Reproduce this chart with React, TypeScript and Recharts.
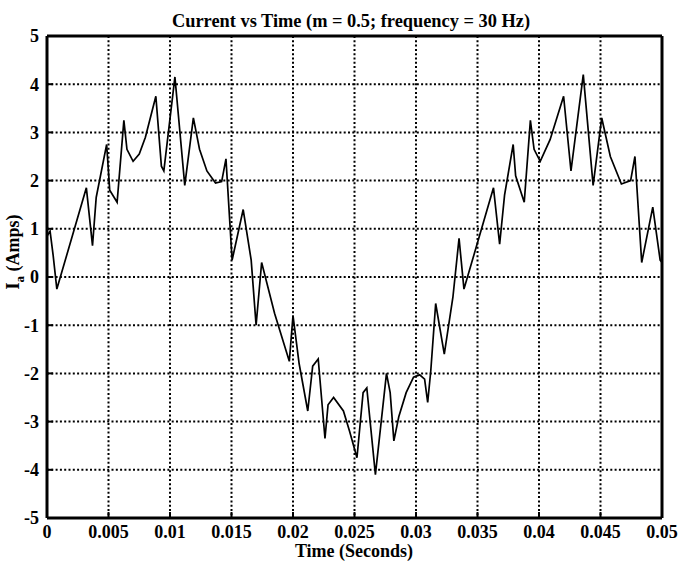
import { LineChart, Line, XAxis, YAxis, CartesianGrid } from 'recharts';

// time (s) and phase current (A)
const timeSec = [
  0, 0.00025, 0.0005, 0.0008, 0.0032, 0.0037, 0.004, 0.00485, 0.0051, 0.0057,
  0.00625, 0.0065, 0.007, 0.0075, 0.008, 0.00885, 0.0093, 0.0095, 0.0104, 0.0112,
  0.0119, 0.0124, 0.013, 0.0137, 0.0142, 0.01455, 0.01505, 0.01595, 0.0166, 0.017,
  0.01745, 0.0185, 0.0197, 0.02, 0.0205, 0.0212, 0.0216, 0.02205, 0.0226, 0.02285,
  0.0233, 0.0241, 0.0246, 0.0252, 0.0257, 0.026, 0.0267, 0.0276, 0.0279, 0.0282,
  0.0286, 0.0292, 0.0298, 0.0303, 0.0307, 0.03095, 0.0312, 0.0316, 0.0323, 0.033,
  0.0335, 0.0339, 0.0363, 0.0368, 0.0372, 0.0379, 0.0381, 0.0388, 0.0393, 0.0396,
  0.0401, 0.0409, 0.042, 0.0426, 0.0436, 0.0444, 0.0451, 0.0458, 0.0467, 0.04745,
  0.0478, 0.04835, 0.04925, 0.04985, 0.05,
];
const currentA = [
  0.85, 0.95, 0.45, -0.25, 1.85, 0.65, 1.65, 2.75, 1.8, 1.55,
  3.25, 2.65, 2.4, 2.55, 2.9, 3.75, 2.3, 2.2, 4.15, 1.9,
  3.3, 2.65, 2.2, 1.95, 1.98, 2.45, 0.35, 1.4, 0.35, -1.0,
  0.3, -0.75, -1.75, -0.8, -1.8, -2.78, -1.85, -1.7, -3.35, -2.65,
  -2.5, -2.78, -3.2, -3.75, -2.4, -2.3, -4.1, -2.0, -2.4, -3.4,
  -2.9, -2.4, -2.08, -2.03, -2.12, -2.6, -1.95, -0.55, -1.6, -0.42,
  0.8, -0.25, 1.85, 0.68, 1.7, 2.75, 2.1, 1.55, 3.25, 2.65,
  2.4, 2.85, 3.75, 2.2, 4.2, 1.9, 3.3, 2.5, 1.93, 2.0,
  2.5, 0.3, 1.45, 0.35, 0.3,
];
const xTicks = [0, 0.005, 0.01, 0.015, 0.02, 0.025, 0.03, 0.035, 0.04, 0.045, 0.05];
const yTicks = [-5, -4, -3, -2, -1, 0, 1, 2, 3, 4, 5];

const data = timeSec.map((t, i) => ({ t, ia: currentA[i] }));

const font = '"Liberation Serif", "Times New Roman", serif';
const tickStyle = { fill: '#000', fontSize: 18, fontWeight: 700, fontFamily: font };
const axisLine = { stroke: '#000', strokeWidth: 3 };
const tickLine = { stroke: '#000', strokeWidth: 2 };

export default function App() {
  return (
    <div style={{ position: 'absolute', left: 0, top: 0, width: 678, height: 561, background: '#fff' }}>
      <LineChart width={678} height={561} data={data} margin={{ top: 35, right: 15, bottom: 0, left: 0 }}>
        <CartesianGrid stroke="#000" strokeWidth={2} strokeDasharray="2 2.3" />
        <XAxis
          dataKey="t"
          type="number"
          domain={[0, 0.05]}
          ticks={xTicks}
          interval={0}
          allowDataOverflow
          height={43}
          tickSize={-6}
          tickMargin={13}
          tick={tickStyle}
          tickLine={tickLine}
          axisLine={axisLine}
          tickFormatter={(v) => String(v)}
        />
        <XAxis
          xAxisId="top"
          orientation="top"
          type="number"
          domain={[0, 0.05]}
          ticks={xTicks}
          interval={0}
          height={1}
          tickSize={-6}
          tick={false}
          tickLine={tickLine}
          axisLine={axisLine}
        />
        <YAxis
          type="number"
          domain={[-5, 5]}
          ticks={yTicks}
          interval={0}
          allowDataOverflow
          width={47}
          tickSize={-6}
          tickMargin={14}
          tick={tickStyle}
          tickLine={tickLine}
          axisLine={axisLine}
        />
        <YAxis
          yAxisId="right"
          orientation="right"
          type="number"
          domain={[-5, 5]}
          ticks={yTicks}
          interval={0}
          width={1}
          tickSize={-6}
          tick={false}
          tickLine={tickLine}
          axisLine={axisLine}
        />
        <Line
          type="linear"
          dataKey="ia"
          stroke="#000"
          strokeWidth={1.7}
          dot={false}
          isAnimationActive={false}
        />
      </LineChart>
      <svg width={678} height={561} style={{ position: 'absolute', left: 0, top: 0, pointerEvents: 'none' }}>
        <g fontFamily={font} fontWeight={700} fill="#000">
          <text x={351} y={27} fontSize={19} textAnchor="middle" textLength={358} lengthAdjust="spacingAndGlyphs">
            Current vs Time (m = 0.5; frequency = 30 Hz)
          </text>
          <text x={354} y={557} fontSize={18} textAnchor="middle">
            Time (Seconds)
          </text>
          <text transform="translate(19, 252) rotate(-90)" fontSize={18} textAnchor="middle">
            I<tspan dy={5} fontSize={13}>a</tspan>
            <tspan dy={-5}> (Amps)</tspan>
          </text>
        </g>
      </svg>
    </div>
  );
}
